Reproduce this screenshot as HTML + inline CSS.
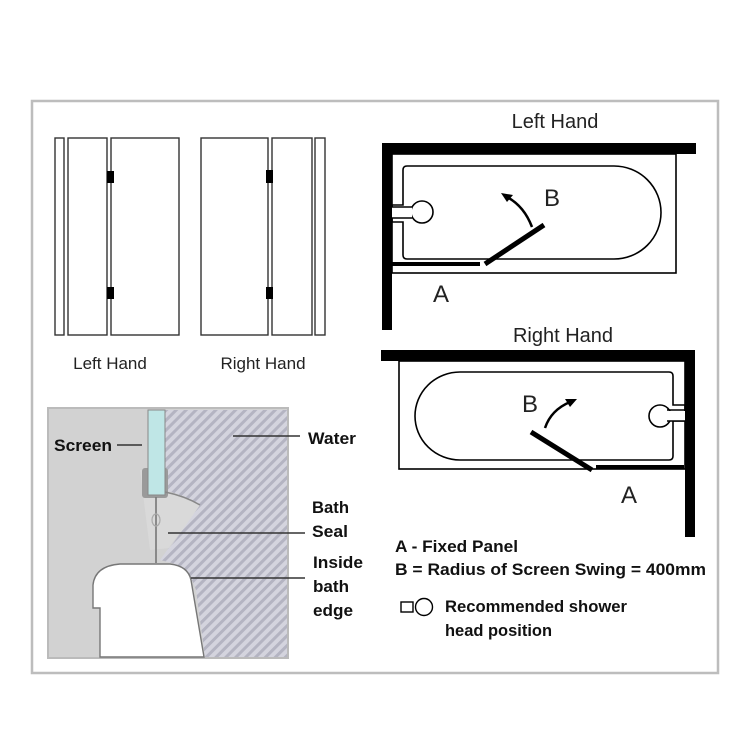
<!DOCTYPE html>
<html><head><meta charset="utf-8"><style>
body{margin:0;background:#fff}
svg{display:block}
.t{font-family:"Liberation Sans",sans-serif;fill:#222}
.b{font-family:"Liberation Sans Narrow","Liberation Sans",sans-serif;font-weight:bold;font-size:17px;fill:#111}
</style></head><body>
<svg width="750" height="750" viewBox="0 0 750 750" xmlns="http://www.w3.org/2000/svg">
<defs>
<pattern id="h" width="7" height="7" patternUnits="userSpaceOnUse" patternTransform="rotate(45)">
<rect width="7" height="7" fill="#d4d4de"/><rect width="3" height="7" fill="#b4b4c2"/>
</pattern>
</defs>
<rect x="32" y="101" width="686" height="572" fill="#fff" stroke="#bdbdbd" stroke-width="2.5"/>

<!-- panels -->
<g fill="#fff" stroke="#333" stroke-width="1.4">
<rect x="55" y="138" width="9" height="197"/>
<rect x="68" y="138" width="39" height="197"/>
<rect x="111" y="138" width="68" height="197"/>
<rect x="201" y="138" width="67" height="197"/>
<rect x="272" y="138" width="40" height="197"/>
<rect x="315" y="138" width="10" height="197"/>
</g>
<g fill="#000">
<rect x="107" y="171" width="7" height="12"/><rect x="107" y="287" width="7" height="12"/>
<rect x="266" y="170" width="7" height="13"/><rect x="266" y="287" width="7" height="12"/>
</g>
<text class="t" x="110" y="369" font-size="17" text-anchor="middle">Left Hand</text>
<text class="t" x="263" y="369" font-size="17" text-anchor="middle">Right Hand</text>

<!-- Left hand bath -->
<text class="t" x="555" y="128" font-size="20" text-anchor="middle">Left Hand</text>
<rect x="382" y="143" width="10" height="187" fill="#000"/>
<rect x="382" y="143" width="314" height="11" fill="#000"/>
<rect x="392" y="154" width="284" height="119" fill="none" stroke="#000" stroke-width="1.6"/>
<path d="M407 166 H614 A47 46.5 0 0 1 614 259 H407 Q403 259 403 255 V222 H392 V205 H403 V170 Q403 166 407 166Z" fill="none" stroke="#000" stroke-width="1.6"/>
<circle cx="422" cy="212" r="11" fill="#fff" stroke="#000" stroke-width="1.6"/>
<rect x="392" y="207" width="20" height="11" fill="#fff"/>
<line x1="392" y1="207" x2="412" y2="207" stroke="#000" stroke-width="1.4"/><line x1="392" y1="218" x2="412" y2="218" stroke="#000" stroke-width="1.4"/>
<line x1="392" y1="264" x2="480" y2="264" stroke="#000" stroke-width="4"/>
<line x1="485" y1="264" x2="544" y2="225" stroke="#000" stroke-width="5"/>
<path d="M532 227 Q524 206 507 197" fill="none" stroke="#000" stroke-width="2.5"/>
<path d="M501 193 L513 195 L507 202Z" fill="#000"/>
<text class="t" x="552" y="206" font-size="24" text-anchor="middle">B</text>
<text class="t" x="441" y="302" font-size="24" text-anchor="middle">A</text>

<!-- Right hand bath -->
<text class="t" x="563" y="342" font-size="20" text-anchor="middle">Right Hand</text>
<rect x="381" y="350" width="314" height="11" fill="#000"/>
<rect x="685" y="350" width="10" height="187" fill="#000"/>
<rect x="399" y="361" width="286" height="108" fill="none" stroke="#000" stroke-width="1.6"/>
<path d="M460 372 H669 Q673 372 673 376 V405 H685 V421 H673 V456 Q673 460 669 460 H460 A45 44 0 0 1 460 372Z" fill="none" stroke="#000" stroke-width="1.6"/>
<circle cx="660" cy="416" r="11" fill="#fff" stroke="#000" stroke-width="1.6"/>
<rect x="667" y="411" width="18" height="10" fill="#fff"/>
<line x1="667" y1="410" x2="685" y2="410" stroke="#000" stroke-width="1.4"/><line x1="667" y1="421" x2="685" y2="421" stroke="#000" stroke-width="1.4"/>
<line x1="596" y1="467" x2="684" y2="467" stroke="#000" stroke-width="4"/>
<line x1="531" y1="432" x2="592" y2="470" stroke="#000" stroke-width="5"/>
<path d="M545 428 Q551 410 570 402" fill="none" stroke="#000" stroke-width="2.5"/>
<path d="M577 399 L565 399 L570 407Z" fill="#000"/>
<text class="t" x="530" y="412" font-size="24" text-anchor="middle">B</text>
<text class="t" x="629" y="503" font-size="24" text-anchor="middle">A</text>

<text class="b" x="395" y="552" textLength="123" lengthAdjust="spacingAndGlyphs">A - Fixed Panel</text>
<text class="b" x="395" y="575" textLength="311" lengthAdjust="spacingAndGlyphs">B = Radius of Screen Swing = 400mm</text>
<rect x="401" y="602" width="12" height="10" fill="#fff" stroke="#000" stroke-width="1.4"/>
<circle cx="424" cy="607" r="8.5" fill="#fff" stroke="#000" stroke-width="1.4"/>
<text class="b" x="445" y="612" textLength="182" lengthAdjust="spacingAndGlyphs">Recommended shower</text>
<text class="b" x="445" y="636" textLength="107" lengthAdjust="spacingAndGlyphs">head position</text>

<!-- detail -->
<rect x="48" y="408" width="240" height="250" fill="#d2d2d2" stroke="#bbb" stroke-width="2"/>
<path d="M165 410 H287 V657 H205 L196 590 Q190 570 172 563 L160 560 L200 505 L180 495 L165 490Z" fill="url(#h)"/>
<path d="M140 470 L165 470 L168 492 L200 505 L170 548 L150 550Z" fill="#dcdcdc" opacity="0.7"/>
<rect x="142" y="468" width="26" height="30" rx="3" fill="#9a9a9a"/>
<rect x="148" y="410" width="17" height="85" fill="#bfe6e6" stroke="#888" stroke-width="1"/>
<path d="M165 492 Q185 496 200 505" fill="none" stroke="#888" stroke-width="1.5"/>
<line x1="156" y1="497" x2="156" y2="563" stroke="#777" stroke-width="1.6"/>
<ellipse cx="156" cy="520" rx="4" ry="6" fill="none" stroke="#aaa" stroke-width="1.2"/>
<path d="M100 657 V608 H93 V585 Q95 566 120 564 H170 Q188 566 191 580 L204 657Z" fill="#fff" stroke="#777" stroke-width="1.4"/>
<line x1="117" y1="445" x2="142" y2="445" stroke="#333" stroke-width="1.5"/>
<line x1="233" y1="436" x2="300" y2="436" stroke="#333" stroke-width="1.5"/>
<line x1="168" y1="533" x2="305" y2="533" stroke="#333" stroke-width="1.5"/>
<line x1="191" y1="578" x2="305" y2="578" stroke="#333" stroke-width="1.5"/>
<text class="b" x="54" y="451" textLength="58" lengthAdjust="spacingAndGlyphs">Screen</text>
<text class="b" x="308" y="444" textLength="48" lengthAdjust="spacingAndGlyphs">Water</text>
<text class="b" x="312" y="513" textLength="37" lengthAdjust="spacingAndGlyphs">Bath</text>
<text class="b" x="312" y="537" textLength="36" lengthAdjust="spacingAndGlyphs">Seal</text>
<text class="b" x="313" y="568" textLength="50" lengthAdjust="spacingAndGlyphs">Inside</text>
<text class="b" x="313" y="592" textLength="36" lengthAdjust="spacingAndGlyphs">bath</text>
<text class="b" x="313" y="616" textLength="40" lengthAdjust="spacingAndGlyphs">edge</text>
</svg>
</body></html>
